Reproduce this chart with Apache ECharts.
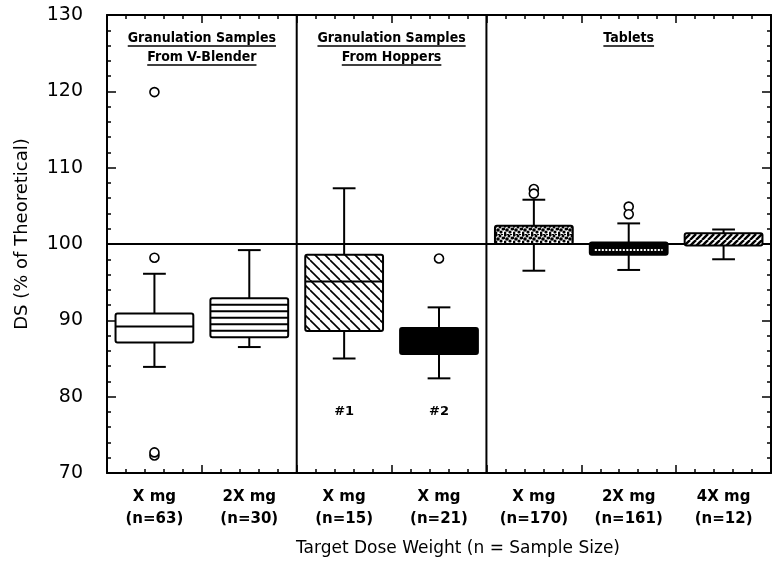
<!DOCTYPE html>
<html>
<head>
<meta charset="utf-8">
<script src="https://cdn.jsdelivr.net/npm/echarts@6/dist/echarts.min.js"></script>
<style>html,body{margin:0;padding:0;background:#fff}#c{width:772px;height:568px}</style>
</head>
<body>
<div id="c"></div>
<script>
// ---------- data ----------
const categories = ['X mg\n(n=63)', '2X mg\n(n=30)', 'X mg\n(n=15)', 'X mg\n(n=21)', 'X mg\n(n=170)', '2X mg\n(n=161)', '4X mg\n(n=12)'];
const boxLow    = [83.9, 86.5, 85.0, 82.4, 96.5, 96.6, 98.0];
const boxQ1     = [87.1, 87.8, 88.6, 85.6, 100.0, 98.6, 99.8];
const boxMedian = [89.2, 90.4, 95.1, 87.2, 101.2, 99.2, 100.6];
const boxQ3     = [90.9, 92.9, 98.6, 89.0, 102.4, 100.2, 101.4];
const boxHigh   = [96.1, 99.2, 107.3, 91.7, 105.8, 102.7, 101.9];
const outlierCategory = [0, 0, 0, 0, 3, 4, 4, 5, 5];
const outlierValue    = [119.9, 98.2, 72.3, 72.7, 98.1, 107.2, 106.6, 104.9, 103.9];
const boxNotes = ['', '', '#1', '#2', '', '', ''];
const panelTitles = ['Granulation Samples\nFrom V-Blender', 'Granulation Samples\nFrom Hoppers', 'Tablets'];
const panelBreaks = [0, 2, 4, 7];
const referenceValue = 100;
const yMin = 70, yMax = 130, yStep = 10;
const xAxisTitle = 'Target Dose Weight (n = Sample Size)';
const yAxisTitle = 'DS (% of Theoretical)';

// ---------- styles ----------
const fillKinds = ['white', 'hlines', 'bslash', 'black', 'stipple', 'blackdash', 'slash'];

function tile(w, h, draw) {
  const c = document.createElement('canvas');
  c.width = w; c.height = h;
  const g = c.getContext('2d');
  g.fillStyle = '#fff'; g.fillRect(0, 0, w, h);
  g.strokeStyle = '#000'; g.fillStyle = '#000';
  draw(g, w, h);
  return { image: c, repeat: 'repeat' };
}
const patterns = {
  bslash: tile(10, 10, (g, s) => {
    g.lineWidth = 1.6;
    for (const k of [-s, 0, s]) { g.beginPath(); g.moveTo(k, 0); g.lineTo(k + s, s); g.stroke(); }
  }),
  slash: tile(6, 6, (g, s) => {
    g.lineWidth = 2.4;
    for (const k of [-s, 0, s]) { g.beginPath(); g.moveTo(k, s); g.lineTo(k + s, 0); g.stroke(); }
  }),
  stipple: tile(9, 9, (g) => {
    const dots = [[1,1,1.7],[5,2,1.5],[8,4,1.5],[3,5,1.8],[6,7,1.6],[1,8,1.4],[4,0,1.2],[7,0,1.2],[0,4,1.2]];
    for (const d of dots) { g.beginPath(); g.arc(d[0], d[1], d[2], 0, Math.PI * 2); g.fill(); }
  })
};

const measureCtx = document.createElement('canvas').getContext('2d');
function textWidth(t, font) { measureCtx.font = font; return measureCtx.measureText(t).width; }

function renderBox(params, api) {
  const i = api.value(0);
  const kind = fillKinds[i];
  const band = api.size([1, 0])[0];
  const cx = api.coord([i, api.value(3)])[0];
  const yLow = api.coord([i, api.value(1)])[1];
  const yQ1 = api.coord([i, api.value(2)])[1];
  const yMed = api.coord([i, api.value(3)])[1];
  const yQ3 = api.coord([i, api.value(4)])[1];
  const yHigh = api.coord([i, api.value(5)])[1];
  const hw = band * 0.41, cw = band * 0.12;
  const ls = { stroke: '#000', lineWidth: 2 };
  const ch = [
    { type: 'line', shape: { x1: cx, y1: yQ3, x2: cx, y2: yHigh }, style: ls },
    { type: 'line', shape: { x1: cx - cw, y1: yHigh, x2: cx + cw, y2: yHigh }, style: ls },
    { type: 'line', shape: { x1: cx, y1: yQ1, x2: cx, y2: yLow }, style: ls },
    { type: 'line', shape: { x1: cx - cw, y1: yLow, x2: cx + cw, y2: yLow }, style: ls }
  ];
  let fill = '#fff';
  if (kind === 'black' || kind === 'blackdash') fill = '#000';
  else if (patterns[kind]) fill = patterns[kind];
  ch.push({ type: 'rect', shape: { x: cx - hw, y: yQ3, width: hw * 2, height: yQ1 - yQ3, r: 2 },
            style: { fill: fill, stroke: '#000', lineWidth: 2 } });
  if (kind === 'hlines') {
    const n = 6, h = (yQ1 - yQ3) / n;
    for (let k = 1; k < n; k++) {
      ch.push({ type: 'line', shape: { x1: cx - hw, y1: yQ3 + k * h, x2: cx + hw, y2: yQ3 + k * h }, style: ls });
    }
  }
  if (kind === 'white' || kind === 'bslash') {
    ch.push({ type: 'line', shape: { x1: cx - hw, y1: yMed, x2: cx + hw, y2: yMed }, style: ls });
  }
  if (kind === 'blackdash') {
    ch.push({ type: 'line', shape: { x1: cx - hw + 5, y1: yMed, x2: cx + hw - 5, y2: yMed },
              style: { stroke: '#fff', lineWidth: 2, lineDash: [2, 1.5] } });
  }
  if (boxNotes[i]) {
    const p = api.coord([i, 78]);
    ch.push({ type: 'text', style: { text: boxNotes[i], x: p[0], y: p[1], align: 'center', verticalAlign: 'middle',
              font: 'bold 13px "DejaVu Sans", sans-serif', fill: '#000' } });
  }
  return { type: 'group', children: ch };
}

function renderFrame(params, api) {
  const left = api.coord([panelBreaks[0], referenceValue]);
  const right = api.coord([panelBreaks[panelBreaks.length - 1], referenceValue]);
  const ch = [{ type: 'line', shape: { x1: left[0], y1: left[1], x2: right[0], y2: right[1] }, style: { stroke: '#000', lineWidth: 2 } }];
  for (let k = 1; k < panelBreaks.length - 1; k++) {
    const a = api.coord([panelBreaks[k], yMin]), b = api.coord([panelBreaks[k], yMax]);
    ch.push({ type: 'line', shape: { x1: a[0], y1: a[1], x2: b[0], y2: b[1] }, style: { stroke: '#000', lineWidth: 2 } });
  }
  return { type: 'group', children: ch };
}

const titleFont = 'bold 14px "DejaVu Sans Condensed", "Liberation Sans Narrow", "DejaVu Sans", sans-serif';
function renderTitle(params, api) {
  const k = params.dataIndex;
  const a = api.coord([panelBreaks[k], yMax]), b = api.coord([panelBreaks[k + 1], yMax]);
  const cx = (a[0] + b[0]) / 2;
  const lines = panelTitles[k].split('\n');
  const ch = [];
  lines.forEach((t, j) => {
    const y = a[1] + 23 + j * 19;
    const w = textWidth(t, titleFont);
    ch.push({ type: 'text', style: { text: t, x: cx, y: y, align: 'center', verticalAlign: 'middle', font: titleFont, fill: '#000' } });
    ch.push({ type: 'line', shape: { x1: cx - w / 2, y1: y + 8, x2: cx + w / 2, y2: y + 8 }, style: { stroke: '#000', lineWidth: 1.5 } });
  });
  return { type: 'group', children: ch };
}

const boxData = categories.map((c, i) => [i, boxLow[i], boxQ1[i], boxMedian[i], boxQ3[i], boxHigh[i]]);
const outlierData = outlierValue.map((v, i) => [outlierCategory[i], v]);

const frameAxis = (pos) => ({
  type: 'value', min: panelBreaks[0], max: panelBreaks[panelBreaks.length - 1], interval: 1, position: pos,
  axisLine: { show: true, onZero: false, lineStyle: { color: '#000', width: 2 } },
  axisTick: { show: true, inside: true, length: 8, lineStyle: { color: '#000', width: 1.5 } },
  minorTick: { show: true, splitNumber: 5, length: 4, lineStyle: { color: '#000', width: 1.5 } },
  axisLabel: { show: false }, splitLine: { show: false }
});
const yFrame = (pos, labels) => ({
  type: 'value', min: yMin, max: yMax, interval: yStep, position: pos,
  axisLine: { show: true, onZero: false, lineStyle: { color: '#000', width: 2 } },
  axisTick: { show: true, inside: true, length: 9, lineStyle: { color: '#000', width: 1.5 } },
  minorTick: { show: true, splitNumber: 5, length: 4, lineStyle: { color: '#000', width: 1.5 } },
  axisLabel: { show: labels, color: '#000', fontSize: 19, margin: 24, fontFamily: '"DejaVu Sans", sans-serif' },
  splitLine: { show: false }
});

const chart = echarts.init(document.getElementById('c'), null, { renderer: 'canvas' });
chart.setOption({
  animation: false,
  backgroundColor: '#fff',
  grid: { left: 107, right: 1, top: 15, bottom: 95, containLabel: false },
  xAxis: [
    { type: 'category', data: categories, position: 'bottom', boundaryGap: true,
      axisLine: { show: false }, axisTick: { show: false },
      axisLabel: { color: '#000', fontSize: 15, fontWeight: 'bold', lineHeight: 22, margin: 13, fontFamily: '"DejaVu Sans", sans-serif' } },
    frameAxis('bottom'),
    frameAxis('top')
  ],
  yAxis: [yFrame('left', true), yFrame('right', false)],
  graphic: [
    { type: 'text', x: 458, y: 549, style: { text: xAxisTitle, align: 'center', verticalAlign: 'middle', font: '17px "DejaVu Sans", sans-serif', fill: '#000' } },
    { type: 'text', x: 22, y: 234, rotation: Math.PI / 2, style: { text: yAxisTitle, align: 'center', verticalAlign: 'middle', font: '18px "DejaVu Sans", sans-serif', fill: '#000' } }
  ],
  series: [
    { type: 'custom', xAxisIndex: 1, yAxisIndex: 0, data: [[panelBreaks[0], referenceValue]], renderItem: renderFrame, silent: true, z: 1 },
    { type: 'custom', xAxisIndex: 1, yAxisIndex: 0, data: panelTitles.map((t, k) => [panelBreaks[k], yMax]), renderItem: renderTitle, silent: true, z: 1 },
    { type: 'custom', xAxisIndex: 0, yAxisIndex: 0, data: boxData, encode: { x: 0, y: [1, 2, 3, 4, 5] }, renderItem: renderBox, z: 2 },
    { type: 'scatter', xAxisIndex: 0, yAxisIndex: 0, data: outlierData, symbol: 'circle', symbolSize: 9,
      itemStyle: { color: '#fff', borderColor: '#000', borderWidth: 1.6, opacity: 1 }, z: 3 }
  ]
});
</script>
</body>
</html>
